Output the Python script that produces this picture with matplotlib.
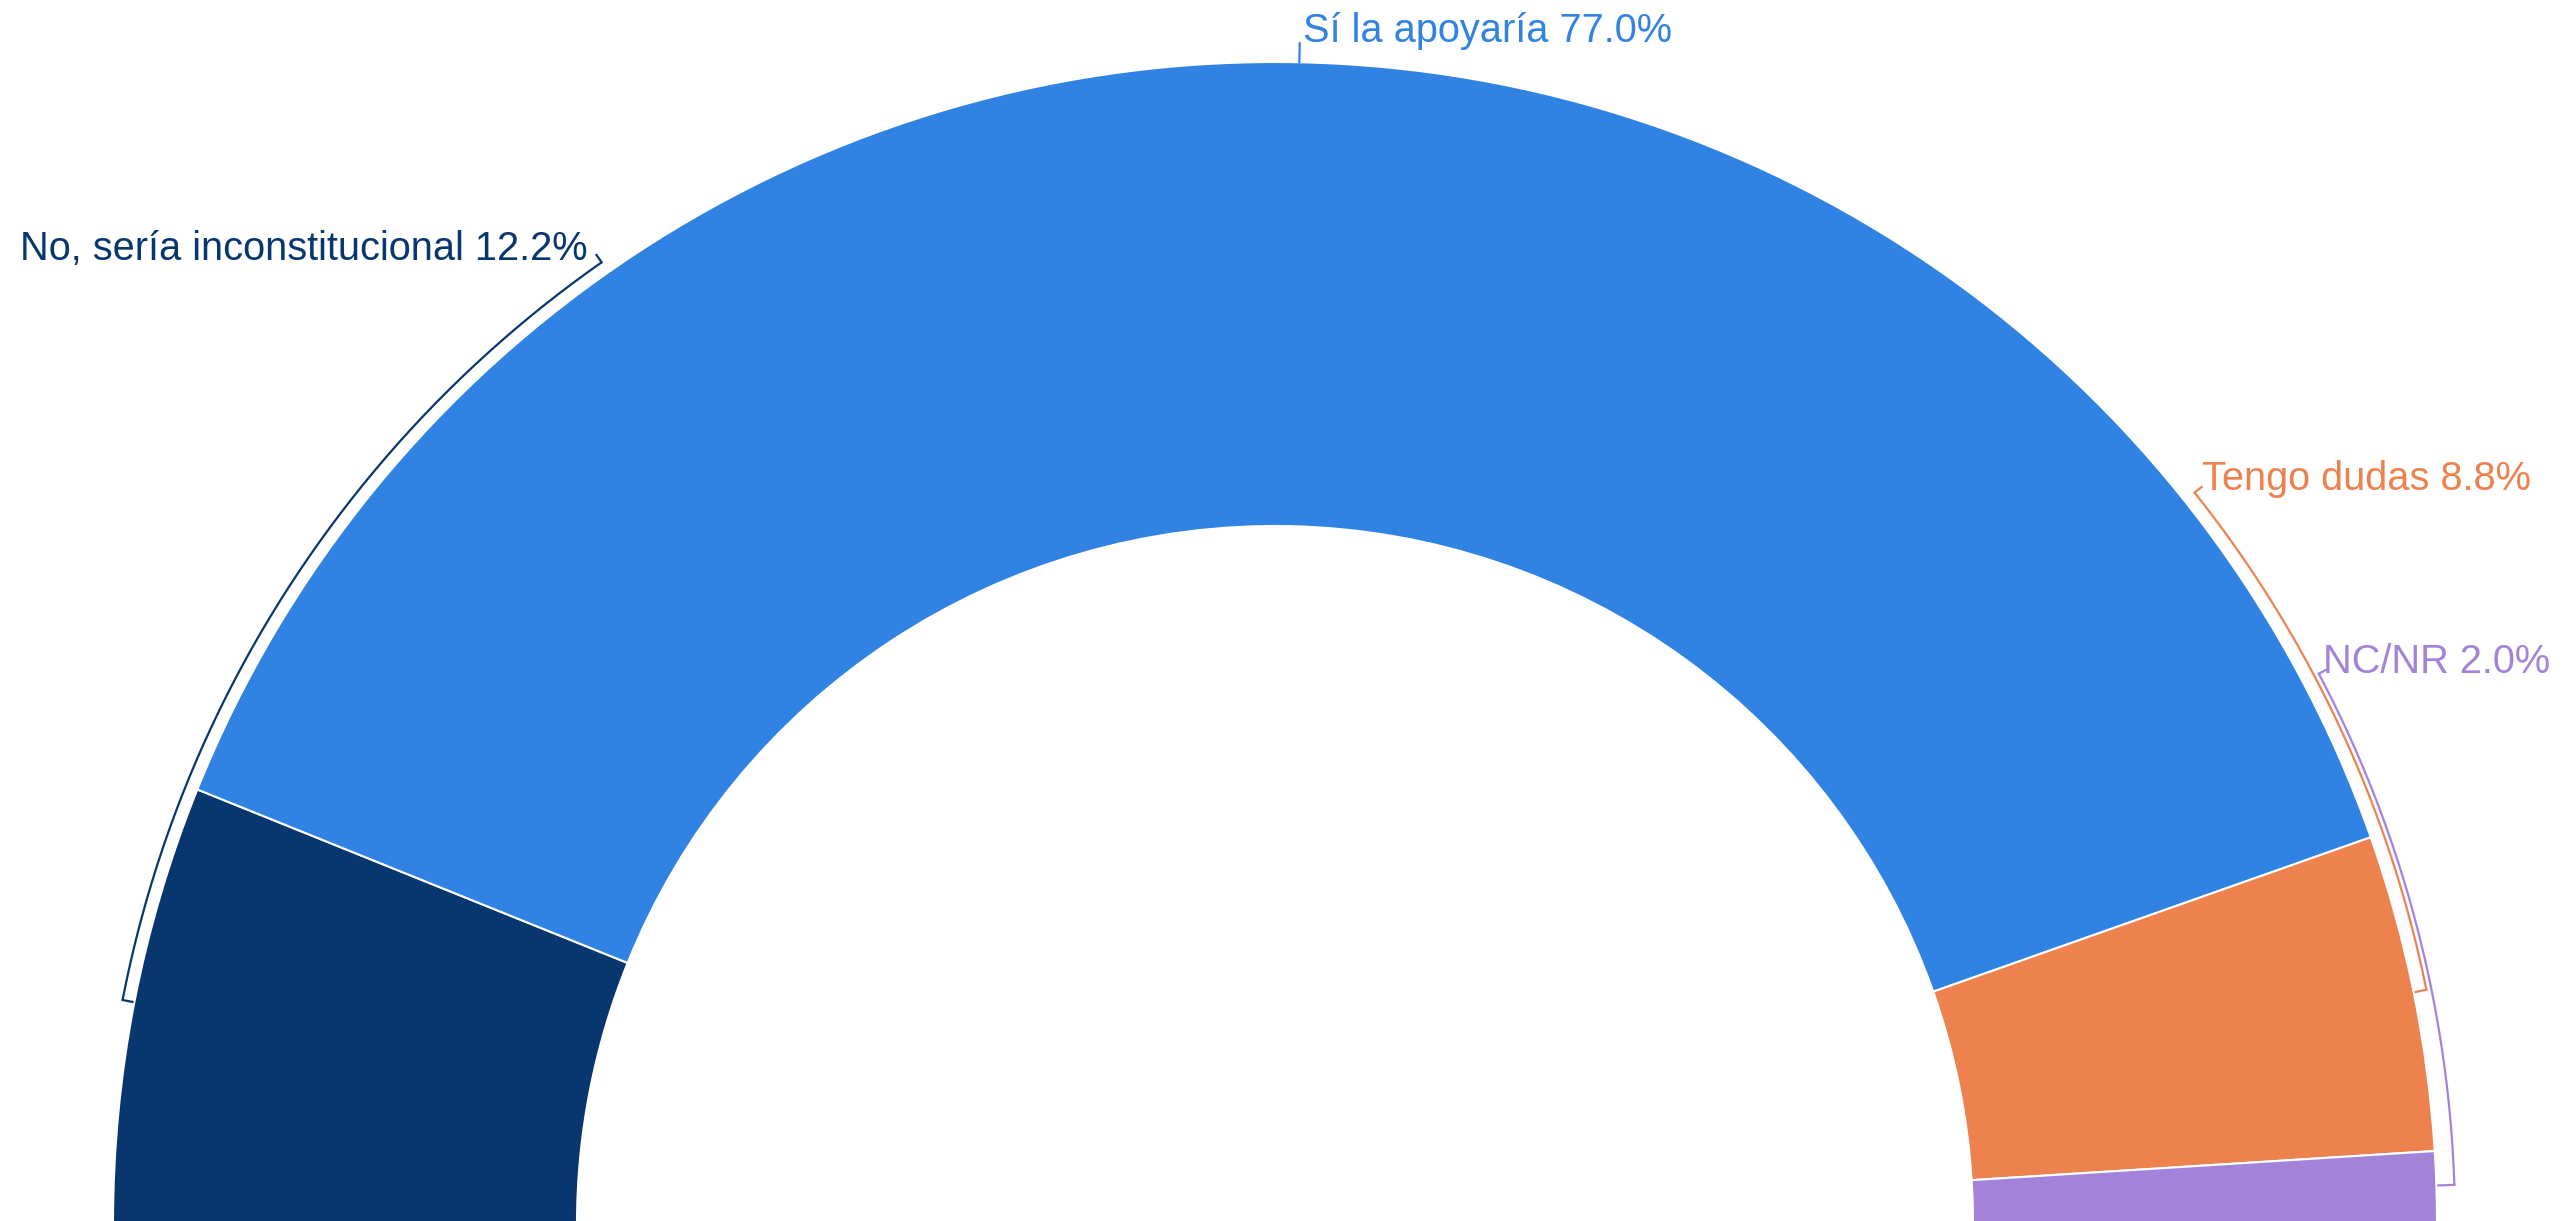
import numpy as np
import matplotlib.pyplot as plt

# semi-donut data (left to right)
labels = ['No, sería inconstitucional', 'Sí la apoyaría', 'Tengo dudas', 'NC/NR']
values = [12.2, 77.0, 8.8, 2.0]
colors = ['#08366F', '#3082E3', '#EE824F', '#A383DA']

W, H = 2571, 1221
cx, cy = 1275, -3          # centre in data coords (y up)
R, r_in = 1162, 698

fig = plt.figure(figsize=(W / 100, H / 100), dpi=100)
ax = fig.add_axes([0, 0, 1, 1])

# hidden half makes the pie a semicircle
wedges, _ = ax.pie(values + [sum(values)], colors=colors + ['none'],
                   startangle=180, counterclock=False, center=(cx, cy), radius=R,
                   wedgeprops=dict(width=R - r_in, edgecolor='white', linewidth=1.5))
wedges[-1].set_edgecolor('none')

# label brackets: (start angle at label, end angle, radius)
brackets = [(125.0, 169.0, 1174), None, (38.5, 11.5, 1175), (27.8, 1.9, 1180)]


def pt(a, rad):
    t = np.deg2rad(a)
    return cx + rad * np.cos(t), cy + rad * np.sin(t)


for br, c in zip(brackets, colors):
    if br is None:
        continue
    a0, a1, rb = br
    t = np.linspace(a0, a1, 200)
    xs, ys = pt(t, rb)
    ax.plot(xs, ys, color=c, lw=1.6, solid_capstyle='butt')
    # small hook at label end
    hx, hy = pt(a0, rb + 9)
    ax.plot([xs[0], hx], [ys[0], hy], color=c, lw=1.6)
    # tick back to the ring at the far end
    ex, ey = pt(a1, R + 2)
    ax.plot([xs[-1], ex], [ys[-1], ey], color=c, lw=1.6)

# short tick for the big slice
sx0, sy0 = pt(88.8, R)
sx1, sy1 = pt(88.8, R + 19)
ax.plot([sx0, sx1], [sy0, sy1], color=colors[1], lw=1.6)

font = dict(family='Liberation Sans', fontsize=28.6)
# label anchors in pixel coords (x, y from top, ha)
label_pos = [(588, 249, 'right'), (1303, 31, 'left'), (2202, 479, 'left'), (2323, 662, 'left')]
for lab, v, c, (px, py, ha) in zip(labels, values, colors, label_pos):
    ax.text(px, H - py, f'{lab} {v:.1f}%', color=c, ha=ha, va='center', **font)

ax.set_xlim(0, W)
ax.set_ylim(0, H)
ax.set_aspect('equal')
ax.axis('off')
fig.savefig('out.png', dpi=100, facecolor='white')
